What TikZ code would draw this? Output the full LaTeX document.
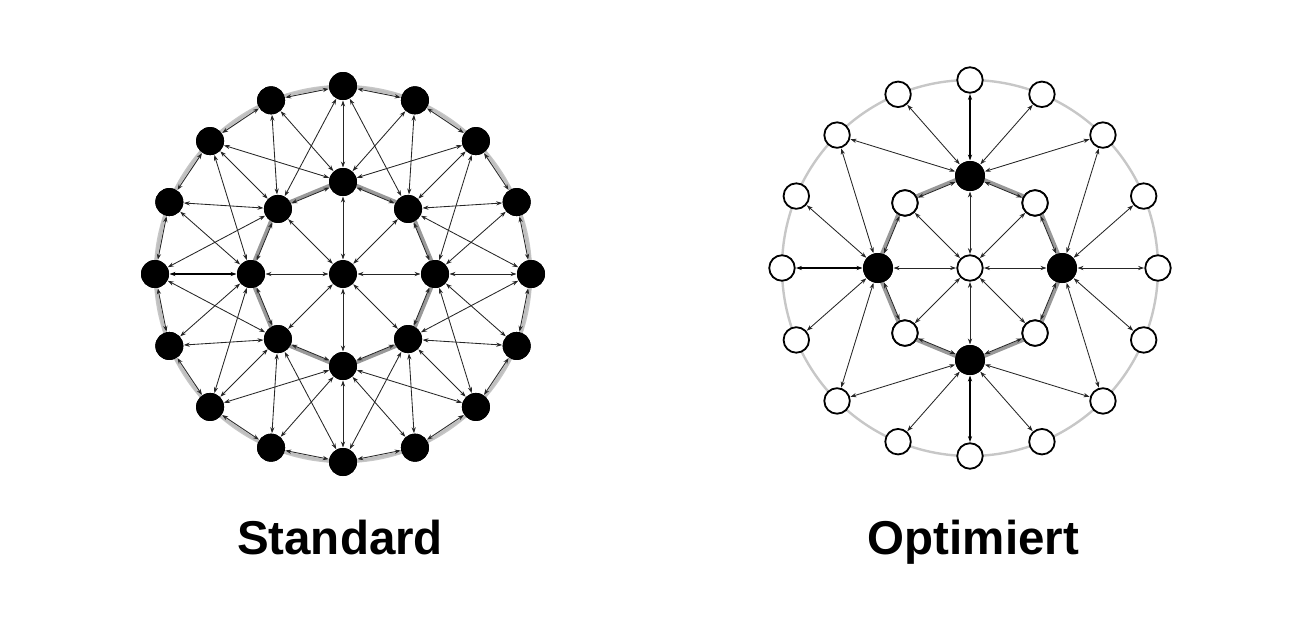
\documentclass[tikz,border=0pt]{standalone}
\usepackage{fontspec}
\setmainfont{Liberation Sans}
\usetikzlibrary{arrows.meta}
\begin{document}
\begin{tikzpicture}[x=1pt,y=-1pt,
  link/.style={draw=black!85, line width=0.85pt, {Stealth[length=6pt,width=4.2pt]}-{Stealth[length=6pt,width=4.2pt]}, shorten <=0.3pt, shorten >=0.3pt},
  strong/.style={draw=black, line width=1.3pt},
  blacknode/.style={circle, fill=black, minimum size=28pt, inner sep=0pt},
  whitenode/.style={circle, draw=black, line width=1.8pt, fill=white, minimum size=25.5pt, inner sep=0pt},
  mprnode/.style={circle, fill=black, minimum size=30pt, inner sep=0pt},
  outerring/.style={draw=black!22, line width=2.4pt},
  innerband/.style={draw=black!40, line width=3.4pt},
  lbl/.style={font=\bfseries\fontsize{47.5}{50}\selectfont, anchor=base, inner sep=0pt}
]
\useasboundingbox (0,0) rectangle (1314,622);

% ================= Standard =================
\coordinate (Lm) at (343,274);
\draw[outerring] (Lm) circle[radius=188pt];
\node[blacknode] (Lc) at (Lm) {};
\foreach \j in {0,...,15} {
  \node[blacknode] (Lo\j) at ([shift={({188*sin(22.5*\j)},{-188*cos(22.5*\j)})}]Lm) {};
}
\foreach \k in {0,...,7} {
  \node[blacknode] (Li\k) at ([shift={({92*sin(45*\k)},{-92*cos(45*\k)})}]Lm) {};
}
% grey bands along the rings
\foreach \k in {0,...,7} {
  \pgfmathtruncatemacro{\n}{mod(\k+1,8)}
  \draw[innerband] ([shift={({2*sin(45*\k+22.5)},{-2*cos(45*\k+22.5)})}]Li\k.center) -- ([shift={({2*sin(45*\k+22.5)},{-2*cos(45*\k+22.5)})}]Li\n.center);
}
\foreach \j in {0,...,15} {
  \pgfmathtruncatemacro{\n}{mod(\j+1,16)}
  \draw[innerband,draw=black!25,line width=2.6pt] ([shift={({2*sin(22.5*\j+11.25)},{-2*cos(22.5*\j+11.25)})}]Lo\j.center) -- ([shift={({2*sin(22.5*\j+11.25)},{-2*cos(22.5*\j+11.25)})}]Lo\n.center);
}
% redraw nodes over bands
\foreach \j in {0,...,15} { \node[blacknode] at (Lo\j) {}; }
\foreach \k in {0,...,7} { \node[blacknode] at (Li\k) {}; }
% center to inner
\foreach \k in {0,...,7} { \draw[link] (Lc) -- (Li\k); }
% inner ring
\foreach \k in {0,...,7} {
  \pgfmathtruncatemacro{\n}{mod(\k+1,8)}
  \draw[link] (Li\k) -- (Li\n);
}
% outer ring
\foreach \j in {0,...,15} {
  \pgfmathtruncatemacro{\n}{mod(\j+1,16)}
  \draw[link] (Lo\j) -- (Lo\n);
}
% inner to outer
\foreach \k in {0,...,7} {
  \foreach \d in {-2,-1,1,2} {
    \pgfmathtruncatemacro{\o}{mod(2*\k+\d+16,16)}
    \draw[link] (Li\k) -- (Lo\o);
  }
}
\foreach \k in {0,1,2,3,4,5,7} {
  \pgfmathtruncatemacro{\o}{2*\k}
  \draw[link] (Li\k) -- (Lo\o);
}
\draw[link,strong] (Lo12) -- (Li6);

\node[lbl] (L1) at (340,554) {Standard};

% ================= Optimiert =================
\coordinate (Rm) at (970,268);
\draw[outerring] (Rm) circle[radius=188pt];
\node[whitenode] (Rc) at (Rm) {};
\foreach \j in {0,...,15} {
  \node[whitenode] (Ro\j) at ([shift={({188*sin(22.5*\j)},{-188*cos(22.5*\j)})}]Rm) {};
}
\foreach \k in {1,3,5,7} {
  \node[whitenode] (Ri\k) at ([shift={({92*sin(45*\k)},{-92*cos(45*\k)})}]Rm) {};
}
\foreach \k in {0,2,4,6} {
  \node[mprnode] (Ri\k) at ([shift={({92*sin(45*\k)},{-92*cos(45*\k)})}]Rm) {};
}
\foreach \k in {0,...,7} {
  \pgfmathtruncatemacro{\n}{mod(\k+1,8)}
  \draw[innerband] ([shift={({2*sin(45*\k+22.5)},{-2*cos(45*\k+22.5)})}]Ri\k.center) -- ([shift={({2*sin(45*\k+22.5)},{-2*cos(45*\k+22.5)})}]Ri\n.center);
}
\foreach \k in {1,3,5,7} { \node[whitenode] at (Ri\k) {}; }
\foreach \k in {0,2,4,6} { \node[mprnode] at (Ri\k) {}; }
\foreach \k in {0,...,7} { \draw[link] (Rc) -- (Ri\k); }
\foreach \k in {0,...,7} {
  \pgfmathtruncatemacro{\n}{mod(\k+1,8)}
  \draw[link] (Ri\k) -- (Ri\n);
}
\foreach \k in {0,2,4,6} {
  \foreach \d in {-2,-1,1,2} {
    \pgfmathtruncatemacro{\o}{mod(2*\k+\d+16,16)}
    \draw[link] (Ri\k) -- (Ro\o);
  }
}
\draw[link,draw=black,line width=1.05pt] (Ri0) -- (Ro0);
\draw[link,draw=black,line width=1.05pt] (Ri4) -- (Ro8);
\draw[link,strong] (Ri6) -- (Ro12);
\draw[link] (Ri2) -- (Ro4);

\node[lbl] (L2) at (973.5,554) {Optimiert};
\end{tikzpicture}
\end{document}
